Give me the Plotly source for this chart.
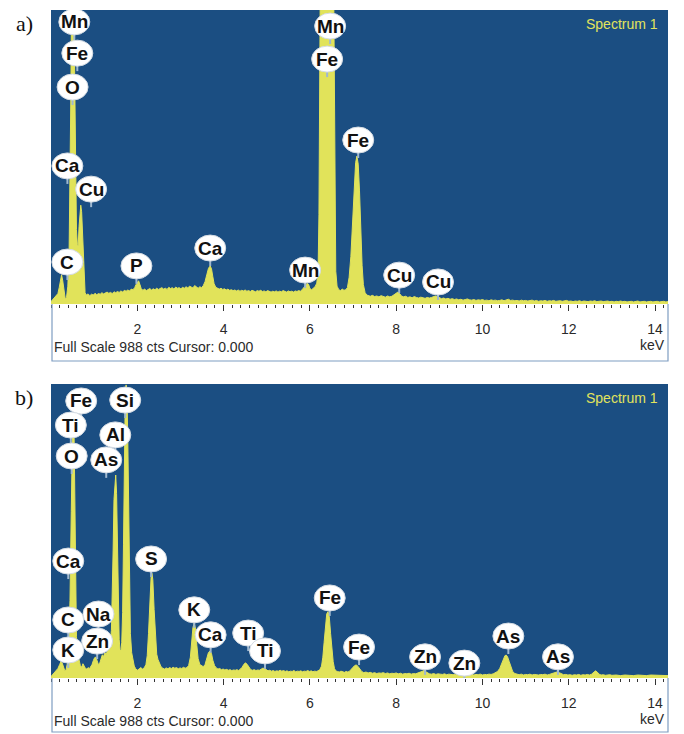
import plotly.graph_objects as go

# ---------------- data ----------------
keV_range = [0.0, 14.3]
full_scale = 988
tick_vals = [2, 4, 6, 8, 10, 12, 14]
tick_text = ["2", "4", "6", "8", "10", "12", "14"]

# panel a) spectrum: (energy keV, counts)
spectrum_a = [
    (0.00, 8), (0.04, 15), (0.08, 22), (0.12, 28), (0.16, 35), (0.19, 55), (0.22, 85), (0.245, 98),
    (0.27, 80), (0.30, 40), (0.33, 18), (0.36, 22), (0.39, 60), (0.42, 180), (0.44, 380), (0.46, 700),
    (0.48, 1100), (0.53, 1100), (0.55, 750), (0.57, 420), (0.59, 250), (0.61, 200), (0.63, 195),
    (0.65, 260), (0.67, 320), (0.69, 332), (0.71, 310), (0.73, 240), (0.75, 140), (0.77, 70), (0.79, 38),
    (0.82, 30), (0.86, 34), (0.90, 28), (0.94, 33), (0.98, 30), (1.02, 36), (1.06, 31), (1.10, 35),
    (1.14, 33), (1.18, 38), (1.22, 34), (1.26, 37), (1.30, 40), (1.34, 36), (1.38, 39), (1.42, 35),
    (1.46, 41), (1.50, 38), (1.54, 42), (1.58, 39), (1.62, 44), (1.66, 40), (1.70, 46), (1.74, 43),
    (1.78, 47), (1.82, 44), (1.86, 50), (1.90, 48), (1.94, 55), (1.97, 65), (2.00, 74), (2.03, 78),
    (2.06, 66), (2.09, 52), (2.13, 46), (2.17, 50), (2.21, 45), (2.25, 49), (2.29, 52), (2.33, 47),
    (2.37, 51), (2.41, 48), (2.45, 53), (2.49, 49), (2.53, 52), (2.57, 55), (2.61, 50), (2.65, 53),
    (2.69, 49), (2.73, 56), (2.77, 52), (2.81, 55), (2.85, 50), (2.89, 57), (2.93, 53), (2.97, 55),
    (3.01, 51), (3.05, 56), (3.09, 53), (3.13, 58), (3.17, 54), (3.21, 60), (3.25, 57), (3.29, 54),
    (3.33, 62), (3.37, 56), (3.41, 53), (3.45, 58), (3.49, 55), (3.53, 62), (3.57, 75), (3.61, 98),
    (3.65, 120), (3.69, 128), (3.72, 118), (3.75, 92), (3.78, 68), (3.82, 56), (3.86, 52), (3.90, 50),
    (3.94, 53), (3.98, 49), (4.02, 51), (4.06, 47), (4.10, 50), (4.14, 46), (4.18, 48), (4.22, 45),
    (4.26, 47), (4.30, 44), (4.34, 47), (4.38, 43), (4.42, 46), (4.46, 44), (4.50, 47), (4.54, 43),
    (4.58, 45), (4.62, 42), (4.66, 46), (4.70, 44), (4.74, 41), (4.78, 45), (4.82, 43), (4.86, 46),
    (4.90, 42), (4.94, 44), (4.98, 41), (5.02, 45), (5.06, 42), (5.10, 40), (5.14, 43), (5.18, 41),
    (5.22, 44), (5.26, 40), (5.30, 43), (5.34, 41), (5.38, 45), (5.42, 42), (5.46, 40), (5.50, 44),
    (5.54, 41), (5.58, 43), (5.62, 40), (5.66, 44), (5.70, 42), (5.74, 45), (5.78, 43), (5.82, 48),
    (5.86, 55), (5.90, 64), (5.94, 70), (5.97, 66), (6.00, 52), (6.04, 48), (6.08, 54), (6.12, 58),
    (6.16, 70), (6.19, 110), (6.21, 300), (6.23, 800), (6.25, 1300), (6.54, 1300), (6.56, 800),
    (6.58, 300), (6.60, 110), (6.63, 60), (6.67, 48), (6.71, 45), (6.75, 50), (6.79, 46), (6.83, 48),
    (6.87, 55), (6.91, 90), (6.95, 160), (6.99, 270), (7.03, 400), (7.06, 475), (7.09, 497), (7.12, 470),
    (7.15, 380), (7.18, 250), (7.21, 130), (7.24, 65), (7.28, 38), (7.32, 30), (7.36, 28), (7.40, 26),
    (7.45, 29), (7.50, 25), (7.55, 27), (7.60, 24), (7.65, 28), (7.70, 25), (7.75, 23), (7.80, 27),
    (7.85, 24), (7.90, 26), (7.95, 30), (8.00, 36), (8.04, 40), (8.08, 35), (8.12, 27), (8.17, 24),
    (8.22, 26), (8.27, 22), (8.32, 24), (8.37, 21), (8.42, 25), (8.47, 22), (8.52, 20), (8.57, 23),
    (8.62, 21), (8.67, 19), (8.72, 22), (8.77, 20), (8.82, 22), (8.87, 24), (8.91, 27), (8.95, 25),
    (9.00, 20), (9.05, 18), (9.10, 20), (9.15, 17), (9.20, 19), (9.25, 16), (9.30, 18), (9.35, 15),
    (9.40, 17), (9.45, 14), (9.50, 16), (9.55, 13), (9.60, 15), (9.65, 17), (9.70, 14), (9.75, 13),
    (9.80, 15), (9.85, 12), (9.90, 14), (9.95, 13), (10.00, 15), (10.05, 12), (10.10, 13), (10.15, 11),
    (10.20, 14), (10.25, 12), (10.30, 13), (10.35, 11), (10.40, 12), (10.45, 14), (10.50, 11),
    (10.55, 13), (10.60, 16), (10.65, 12), (10.70, 13), (10.75, 11), (10.80, 12), (10.85, 10),
    (10.90, 13), (10.95, 11), (11.00, 12), (11.05, 10), (11.10, 11), (11.15, 13), (11.20, 10),
    (11.25, 12), (11.30, 9), (11.35, 11), (11.40, 10), (11.45, 12), (11.50, 9), (11.55, 11),
    (11.60, 10), (11.65, 12), (11.70, 9), (11.75, 10), (11.80, 11), (11.85, 9), (11.90, 10),
    (11.95, 12), (12.00, 9), (12.05, 10), (12.10, 8), (12.15, 10), (12.20, 9), (12.25, 11), (12.30, 8),
    (12.35, 10), (12.40, 9), (12.45, 8), (12.50, 10), (12.55, 9), (12.60, 11), (12.65, 8), (12.70, 9),
    (12.75, 10), (12.80, 8), (12.85, 9), (12.90, 10), (12.95, 8), (13.00, 9), (13.05, 7), (13.10, 9),
    (13.15, 8), (13.20, 10), (13.25, 8), (13.30, 9), (13.35, 7), (13.40, 8), (13.45, 9), (13.50, 7),
    (13.55, 8), (13.60, 10), (13.65, 7), (13.70, 8), (13.75, 9), (13.80, 7), (13.85, 8), (13.90, 9),
    (13.95, 7), (14.00, 8), (14.05, 9), (14.10, 7), (14.15, 8), (14.20, 9), (14.25, 7), (14.30, 8),
]

# panel b) spectrum: (energy keV, counts)
spectrum_b = [
    (0.00, 5), (0.04, 12), (0.08, 20), (0.12, 26), (0.16, 32), (0.20, 45), (0.23, 55), (0.26, 50),
    (0.29, 35), (0.32, 24), (0.35, 28), (0.38, 50), (0.41, 110), (0.44, 260), (0.47, 560), (0.49, 850),
    (0.51, 950), (0.53, 880), (0.55, 560), (0.57, 280), (0.59, 140), (0.62, 80), (0.65, 55), (0.68, 42),
    (0.71, 36), (0.74, 48), (0.77, 40), (0.80, 32), (0.83, 30), (0.86, 35), (0.89, 31), (0.92, 38),
    (0.95, 45), (0.98, 58), (1.01, 68), (1.04, 70), (1.07, 58), (1.10, 45), (1.13, 50), (1.16, 62),
    (1.19, 78), (1.22, 72), (1.25, 85), (1.28, 80), (1.31, 92), (1.34, 95), (1.37, 110), (1.40, 160),
    (1.42, 260), (1.44, 430), (1.46, 600), (1.48, 670), (1.50, 682), (1.52, 620), (1.54, 420),
    (1.56, 230), (1.58, 130), (1.60, 95), (1.62, 90), (1.64, 120), (1.66, 220), (1.68, 450), (1.70, 750),
    (1.72, 930), (1.74, 985), (1.76, 960), (1.78, 800), (1.80, 520), (1.82, 280), (1.84, 150),
    (1.87, 85), (1.90, 55), (1.93, 40), (1.96, 32), (2.00, 26), (2.04, 30), (2.08, 35), (2.12, 30),
    (2.16, 34), (2.20, 45), (2.23, 75), (2.26, 150), (2.29, 260), (2.32, 340), (2.34, 352), (2.36, 330),
    (2.39, 230), (2.42, 130), (2.45, 80), (2.48, 62), (2.51, 50), (2.55, 38), (2.59, 33), (2.63, 30),
    (2.67, 34), (2.71, 31), (2.75, 35), (2.79, 32), (2.83, 36), (2.87, 33), (2.91, 35), (2.95, 31),
    (2.99, 34), (3.03, 32), (3.07, 36), (3.11, 33), (3.15, 35), (3.19, 42), (3.23, 70), (3.26, 120),
    (3.29, 170), (3.32, 184), (3.35, 165), (3.38, 110), (3.41, 65), (3.45, 45), (3.49, 40), (3.53, 38),
    (3.57, 45), (3.61, 68), (3.65, 86), (3.69, 91), (3.72, 82), (3.75, 60), (3.79, 42), (3.83, 34),
    (3.87, 30), (3.91, 32), (3.95, 28), (3.99, 30), (4.03, 27), (4.07, 29), (4.11, 26), (4.15, 28),
    (4.19, 25), (4.23, 27), (4.27, 26), (4.31, 28), (4.35, 25), (4.39, 30), (4.43, 36), (4.47, 46),
    (4.51, 51), (4.55, 45), (4.59, 35), (4.63, 28), (4.67, 26), (4.71, 28), (4.75, 25), (4.79, 27),
    (4.83, 26), (4.87, 30), (4.91, 33), (4.95, 32), (4.99, 27), (5.03, 24), (5.07, 26), (5.11, 23),
    (5.15, 25), (5.19, 22), (5.23, 24), (5.27, 23), (5.31, 26), (5.35, 23), (5.39, 25), (5.43, 22),
    (5.47, 24), (5.51, 21), (5.55, 23), (5.59, 22), (5.63, 25), (5.67, 21), (5.71, 23), (5.75, 22),
    (5.79, 24), (5.83, 21), (5.87, 23), (5.91, 22), (5.95, 25), (5.99, 22), (6.03, 24), (6.07, 21),
    (6.11, 23), (6.15, 22), (6.19, 24), (6.23, 28), (6.27, 40), (6.30, 70), (6.33, 120), (6.36, 180),
    (6.39, 215), (6.42, 223), (6.45, 205), (6.48, 150), (6.51, 95), (6.54, 55), (6.57, 32), (6.60, 24),
    (6.64, 22), (6.68, 20), (6.72, 23), (6.76, 21), (6.80, 19), (6.84, 22), (6.88, 20), (6.92, 23),
    (6.96, 28), (7.00, 36), (7.04, 42), (7.08, 44), (7.12, 38), (7.16, 28), (7.20, 22), (7.25, 18),
    (7.30, 20), (7.35, 17), (7.40, 19), (7.45, 16), (7.50, 18), (7.55, 15), (7.60, 17), (7.65, 16),
    (7.70, 18), (7.75, 15), (7.80, 17), (7.85, 14), (7.90, 16), (7.95, 15), (8.00, 17), (8.05, 14),
    (8.10, 16), (8.15, 13), (8.20, 15), (8.25, 14), (8.30, 16), (8.35, 13), (8.40, 15), (8.45, 14),
    (8.50, 16), (8.55, 18), (8.60, 22), (8.64, 25), (8.68, 22), (8.72, 17), (8.77, 14), (8.82, 13),
    (8.87, 15), (8.92, 12), (8.97, 14), (9.02, 13), (9.07, 12), (9.12, 14), (9.17, 11), (9.22, 13),
    (9.27, 12), (9.32, 11), (9.37, 13), (9.42, 12), (9.47, 14), (9.52, 15), (9.56, 16), (9.60, 14),
    (9.65, 12), (9.70, 11), (9.75, 13), (9.80, 10), (9.85, 12), (9.90, 11), (9.95, 13), (10.00, 10),
    (10.05, 12), (10.10, 11), (10.15, 13), (10.20, 12), (10.25, 14), (10.30, 17), (10.35, 22),
    (10.40, 32), (10.44, 48), (10.48, 65), (10.52, 75), (10.55, 77), (10.58, 72), (10.62, 55),
    (10.66, 35), (10.70, 22), (10.75, 15), (10.80, 12), (10.85, 11), (10.90, 13), (10.95, 10),
    (11.00, 12), (11.05, 11), (11.10, 13), (11.15, 10), (11.20, 12), (11.25, 11), (11.30, 10),
    (11.35, 12), (11.40, 11), (11.45, 13), (11.50, 10), (11.55, 12), (11.60, 14), (11.65, 17),
    (11.70, 20), (11.74, 21), (11.78, 18), (11.83, 13), (11.88, 11), (11.93, 12), (11.98, 10),
    (12.03, 11), (12.08, 9), (12.13, 11), (12.18, 10), (12.23, 12), (12.28, 9), (12.33, 11),
    (12.38, 10), (12.43, 12), (12.48, 10), (12.53, 13), (12.58, 18), (12.62, 24), (12.66, 20),
    (12.70, 13), (12.75, 10), (12.80, 11), (12.85, 9), (12.90, 10), (12.95, 11), (13.00, 9),
    (13.10, 10), (13.20, 8), (13.30, 10), (13.40, 9), (13.50, 8), (13.60, 10), (13.70, 9), (13.80, 8),
    (13.90, 10), (14.00, 9), (14.10, 8), (14.20, 9), (14.30, 8),
]

# element labels: (symbol, energy keV, counts) = position of each label bubble
labels_a = [
    ("Mn", 0.54, 948), ("Fe", 0.61, 843), ("O", 0.50, 729), ("Ca", 0.38, 464), ("Cu", 0.93, 386),
    ("C", 0.38, 141), ("P", 1.98, 128), ("Ca", 3.69, 188), ("Mn", 6.47, 934), ("Fe", 6.40, 823),
    ("Fe", 7.12, 551), ("Mn", 5.89, 114), ("Cu", 8.07, 97), ("Cu", 8.97, 74),
]
labels_b = [
    ("Fe", 0.70, 931), ("Si", 1.72, 934), ("Ti", 0.46, 850), ("Al", 1.49, 817), ("O", 0.48, 746),
    ("As", 1.28, 733), ("Ca", 0.40, 393), ("S", 2.32, 400), ("Na", 1.10, 215), ("C", 0.40, 195),
    ("Zn", 1.07, 124), ("K", 0.40, 94), ("K", 3.32, 229), ("Ca", 3.70, 145), ("Ti", 4.57, 151),
    ("Ti", 4.96, 91), ("Fe", 6.46, 269), ("Fe", 7.14, 104), ("Zn", 8.67, 71), ("Zn", 9.58, 50),
    ("As", 10.60, 141), ("As", 11.75, 71),
]

panel_titles = ["a)", "b)"]
spectrum_name = "Spectrum 1"
footer_text = "Full Scale 988 cts Cursor: 0.000"
unit_text = "keV"

# ---------------- styling / layout ----------------
PAGE_OFF = 8                      # default body margin of the html page
W, H = 684 - PAGE_OFF, 734 - PAGE_OFF
BLUE = "#1b4e82"
YEL = "#e1e35a"
PLOT_L, PLOT_R = 51, 668
# (top of blue area, axis line, bottom of white strip) in page pixels
panels_px = [(10, 304, 361), (384, 678, 732)]


def fx(px):
    return (px - PAGE_OFF) / W


def fy(py):
    return 1 - (py - PAGE_OFF) / H


fig = go.Figure()
shapes = []
annotations = []

for i, (spec, labels) in enumerate([(spectrum_a, labels_a), (spectrum_b, labels_b)]):
    sfx = "" if i == 0 else str(i + 1)
    xa, ya = "x" + sfx, "y" + sfx
    top, axis_y, bottom = panels_px[i]
    bottom = min(bottom, PAGE_OFF + H - 1)
    fig.add_trace(go.Scatter(
        x=[p[0] for p in spec], y=[p[1] for p in spec],
        mode="lines", fill="tozeroy", fillcolor=YEL,
        line=dict(color=YEL, width=1), xaxis=xa, yaxis=ya,
        hoverinfo="skip", showlegend=False,
    ))
    fig.layout["xaxis" + sfx] = dict(
        domain=[fx(PLOT_L), fx(PLOT_R)], anchor=ya, range=keV_range,
        showgrid=False, zeroline=False, showline=False,
        tickmode="array", tickvals=tick_vals, ticktext=tick_text,
        ticks="outside", ticklen=6, tickwidth=1, tickcolor="#333333",
        minor=dict(dtick=0.2, tick0=0, ticks="outside", ticklen=3, tickwidth=1,
                   tickcolor="#333333", showgrid=False),
        tickfont=dict(family="Liberation Sans, Arial", size=14, color="#2a2a2a"),
        ticklabelstandoff=6, fixedrange=True,
    )
    fig.layout["yaxis" + sfx] = dict(
        domain=[fy(axis_y), fy(top)], anchor=xa, range=[0, full_scale],
        visible=False, showgrid=False, zeroline=False, fixedrange=True,
    )
    # white strip border (left, bottom, right)
    shapes.append(dict(
        type="path", xref="paper", yref="paper", layer="above",
        path=(f"M {fx(PLOT_L + 1)} {fy(axis_y)} L {fx(PLOT_L + 1)} {fy(bottom)} "
              f"L {fx(PLOT_R)} {fy(bottom)} L {fx(PLOT_R)} {fy(axis_y)}"),
        line=dict(color="#7f9dc2", width=1.2),
    ))
    # element label bubbles
    for name, e, c in labels:
        shapes.append(dict(
            type="line", xref=xa, yref=ya, xsizemode="pixel", ysizemode="pixel",
            xanchor=e, yanchor=c, x0=0, x1=0, y0=-18, y1=-12,
            line=dict(color="#9fb8d0", width=2), layer="above",
        ))
        shapes.append(dict(
            type="circle", xref=xa, yref=ya, xsizemode="pixel", ysizemode="pixel",
            xanchor=e, yanchor=c, x0=-15.5, x1=15.5, y0=-13, y1=13,
            fillcolor="white", line=dict(color="#d4dbe3", width=1), layer="above",
        ))
        annotations.append(dict(
            xref=xa, yref=ya, x=e, y=c, text=f"<b>{name}</b>", showarrow=False,
            xanchor="center", yanchor="middle",
            font=dict(family="Liberation Sans, Arial", size=19, color="#111111"),
        ))
    # texts
    annotations.append(dict(
        xref="paper", yref="paper", x=fx(660), y=fy(top + 14), text=spectrum_name,
        showarrow=False, xanchor="right", yanchor="middle",
        font=dict(family="Liberation Sans, Arial", size=14, color="#e2e45c"),
    ))
    annotations.append(dict(
        xref="paper", yref="paper", x=fx(PLOT_L + 1), y=fy(axis_y + 43), text=footer_text,
        showarrow=False, xanchor="left", yanchor="middle",
        font=dict(family="Liberation Sans, Arial", size=14, color="#2a2a2a"),
    ))
    annotations.append(dict(
        xref="paper", yref="paper", x=fx(PLOT_R - 1), y=fy(axis_y + 41), text=unit_text,
        showarrow=False, xanchor="right", yanchor="middle",
        font=dict(family="Liberation Sans, Arial", size=14, color="#2a2a2a"),
    ))
    annotations.append(dict(
        xref="paper", yref="paper", x=fx(24), y=fy(top + 13), text=panel_titles[i],
        showarrow=False, xanchor="center", yanchor="middle",
        font=dict(family="Liberation Serif, Times New Roman", size=22, color="#111111"),
    ))

fig.update_layout(
    width=W, height=H, margin=dict(l=0, r=0, t=0, b=0),
    paper_bgcolor="white", plot_bgcolor=BLUE,
    shapes=shapes, annotations=annotations, showlegend=False,
)

fig.write_html("out.html")
